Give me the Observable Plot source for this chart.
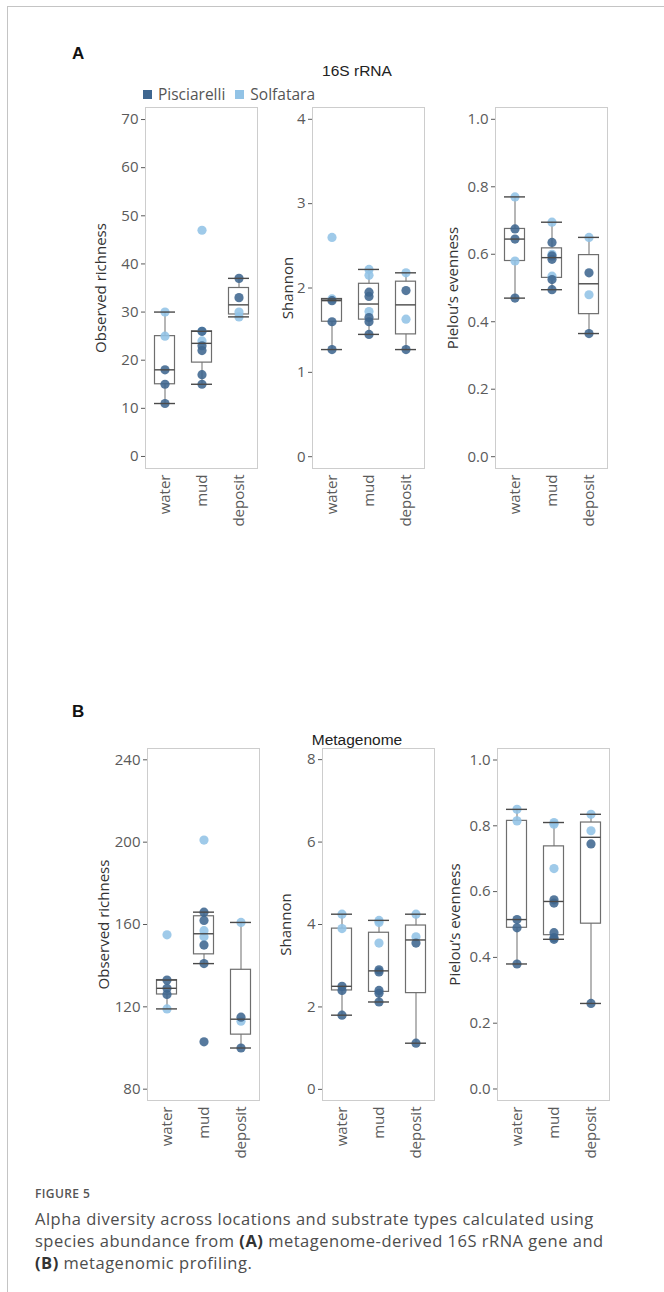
<!DOCTYPE html>
<html><head><meta charset="utf-8">
<script src="https://cdn.jsdelivr.net/npm/d3@7"></script>
<script src="https://cdn.jsdelivr.net/npm/@observablehq/plot@0.6"></script>
<style>
body{margin:0;background:#fff;}
#page{position:relative;width:664px;height:1292px;overflow:hidden;font-family:"Open Sans",sans-serif;background:#fff;}
.abs{position:absolute;white-space:nowrap;}
.border-top{position:absolute;left:8px;top:6px;width:660px;height:0;border-top:1.5px solid #c4c4c4;}
.border-left{position:absolute;left:7px;top:6px;width:0;height:1300px;border-left:1.5px solid #c4c4c4;}
.panel{position:absolute;}
.letter{font-family:"Liberation Sans",Arial,sans-serif;font-weight:bold;font-size:17px;color:#111;}
.title{font-family:"Liberation Sans",Arial,sans-serif;font-size:15.5px;color:#222;transform:translateX(-50%);}
.legend{font-size:15.5px;color:#555;display:flex;align-items:center;}
.sw{display:inline-block;width:9px;height:9px;margin-right:6px;}
.fig{font-size:12px;color:#555;letter-spacing:0.4px;font-weight:600;}
.capline{font-size:16.5px;color:#4d4d4d;line-height:22px;letter-spacing:0.5px;display:flex;white-space:pre;}
.capline b{font-weight:700;color:#333;}
g[aria-label="y-axis label"] text{fill:#333;}
</style></head><body>
<div id="page">
  <div class="border-top"></div><div class="border-left"></div>
  <div class="abs letter" style="left:72px;top:44px;">A</div>
  <div class="abs title" style="left:357px;top:62px;">16S rRNA</div>
  <div class="abs legend" id="legend" style="left:143px;top:83px;"></div>
  <div class="abs letter" style="left:72px;top:702px;">B</div>
  <div class="abs title" style="left:357px;top:731px;">Metagenome</div>
  <div class="abs fig" style="left:35px;top:1185px;">FIGURE 5</div>
  <div class="abs capline" style="left:35px;top:1208px;"><span>Alpha diversity across locations and substrate types calculated using</span></div>
  <div class="abs capline" style="left:35px;top:1230px;"><span>species abundance from </span><b>(A)</b><span> metagenome-derived 16S rRNA gene and</span></div>
  <div class="abs capline" style="left:35px;top:1252px;"><b>(B)</b><span> metagenomic profiling.</span></div>
</div>
<script>
// ---------- data ----------
const categories = ["water", "mud", "deposit"];
const sites = ["Pisciarelli", "Solfatara"];
const siteColors = ["#3f668f", "#92c3e6"];

// (A) 16S rRNA — values per category [water, mud, deposit]
const a_richness_pisciarelli = [[11, 15, 18], [15, 17, 22, 23, 26], [33, 37]];
const a_richness_solfatara   = [[25, 30], [24, 26, 47], [29, 30]];
const a_shannon_pisciarelli  = [[1.27, 1.6, 1.85], [1.45, 1.6, 1.65, 1.9, 1.95], [1.27, 1.97]];
const a_shannon_solfatara    = [[1.87, 2.6], [1.72, 2.15, 2.22], [1.63, 2.18]];
const a_pielou_pisciarelli   = [[0.47, 0.645, 0.675], [0.495, 0.525, 0.585, 0.595, 0.635], [0.365, 0.545]];
const a_pielou_solfatara     = [[0.58, 0.77], [0.535, 0.6, 0.695], [0.48, 0.65]];

// (B) Metagenome
const b_richness_pisciarelli = [[126, 129, 133], [103, 141, 150, 162, 166], [100, 115]];
const b_richness_solfatara   = [[119, 155], [154, 157, 201], [113, 161]];
const b_shannon_pisciarelli  = [[1.8, 2.4, 2.5], [2.12, 2.33, 2.4, 2.85, 2.9], [1.12, 3.55]];
const b_shannon_solfatara    = [[3.9, 4.25], [3.55, 4.05, 4.1], [3.7, 4.25]];
const b_pielou_pisciarelli   = [[0.38, 0.49, 0.515], [0.455, 0.46, 0.475, 0.565, 0.575], [0.26, 0.745]];
const b_pielou_solfatara     = [[0.815, 0.85], [0.67, 0.805, 0.81], [0.785, 0.835]];

// tick labels
const ticksRichA = [0, 10, 20, 30, 40, 50, 60, 70];
const ticksShanA = [0, 1, 2, 3, 4];
const ticksPielou = [0, 0.2, 0.4, 0.6, 0.8, 1.0];
const ticksRichB = [80, 120, 160, 200, 240];
const ticksShanB = [0, 2, 4, 6, 8];

// ---------- helpers ----------
function boxStats(vals) {
  const s = vals.slice().sort((a, b) => a - b), n = s.length;
  const med = d3.median(s);
  let lower, upper;
  if (n % 2) { const m = (n - 1) / 2; lower = s.slice(0, m + 1); upper = s.slice(m); }
  else { lower = s.slice(0, n / 2); upper = s.slice(n / 2); }
  const q1 = d3.median(lower), q3 = d3.median(upper), iqr = q3 - q1;
  const lo = d3.min(s.filter(v => v >= q1 - 1.5 * iqr));
  const hi = d3.max(s.filter(v => v <= q3 + 1.5 * iqr));
  return {q1, med, q3, lo, hi};
}
function table(pis, sol) {
  const pts = [];
  categories.forEach((c, i) => {
    sol[i].forEach(v => pts.push({cat: c, site: sites[1], v}));
    pis[i].forEach(v => pts.push({cat: c, site: sites[0], v}));
  });
  const stats = categories.map((c, i) => ({cat: c, ...boxStats(pis[i].concat(sol[i]))}));
  return {pts, stats};
}

const panels = [
  {pis: a_richness_pisciarelli, sol: a_richness_solfatara, domain: [-2.5, 72.5], ticks: ticksRichA, fmt: d3.format("d"), label: "Observed richness", fx: 145, fy: 107, fh: 361, lo: 50},
  {pis: a_shannon_pisciarelli, sol: a_shannon_solfatara, domain: [-0.14, 4.14], ticks: ticksShanA, fmt: d3.format("d"), label: "Shannon", fx: 312, fy: 107, fh: 361, lo: 30},
  {pis: a_pielou_pisciarelli, sol: a_pielou_solfatara, domain: [-0.035, 1.035], ticks: ticksPielou, fmt: d3.format(".1f"), label: "Pielou\u2019s evenness", fx: 495, fy: 107, fh: 361, lo: 48},
  {pis: b_richness_pisciarelli, sol: b_richness_solfatara, domain: [74.5, 245.5], ticks: ticksRichB, fmt: d3.format("d"), label: "Observed richness", fx: 147, fy: 748, fh: 352, lo: 49},
  {pis: b_shannon_pisciarelli, sol: b_shannon_solfatara, domain: [-0.27, 8.27], ticks: ticksShanB, fmt: d3.format("d"), label: "Shannon", fx: 322, fy: 748, fh: 352, lo: 42},
  {pis: b_pielou_pisciarelli, sol: b_pielou_solfatara, domain: [-0.035, 1.035], ticks: ticksPielou, fmt: d3.format(".1f"), label: "Pielou\u2019s evenness", fx: 497, fy: 748, fh: 352, lo: 48}
];

const page = document.getElementById("page");
const ml = 70, mr = 6, mt = 6, mb = 70, fw = 112;
const inset = 8.5, capInset = 8;

panels.forEach(p => {
  const {pts, stats} = table(p.pis, p.sol);
  const chart = Plot.plot({
    width: ml + fw + mr, height: mt + p.fh + mb,
    marginLeft: ml, marginRight: mr, marginTop: mt, marginBottom: mb,
    style: {fontFamily: "Open Sans", fontSize: "15px", background: "transparent", overflow: "visible"},
    x: {type: "band", domain: categories, padding: 0},
    y: {domain: p.domain},
    color: {domain: sites, range: siteColors},
    marks: [
      Plot.frame({stroke: "#cdcdcd"}),
      Plot.axisY({ticks: p.ticks, tickFormat: p.fmt, tickSize: 4, tickPadding: 3, color: "#5a5a5a",
                  label: p.label, labelAnchor: "center", labelArrow: "none", labelOffset: p.lo}),
      Plot.axisX({tickRotate: -90, tickSize: 0, tickPadding: 6, color: "#5a5a5a", label: null}),
      Plot.ruleX(stats, {x: "cat", y1: "lo", y2: "hi", stroke: "#858585", strokeWidth: 1.2}),
      Plot.barY(stats, {x: "cat", y1: "q1", y2: "q3", fill: "white", stroke: "#6e6e6e", strokeWidth: 1.2, insetLeft: inset, insetRight: inset}),
      Plot.dot(pts, {x: "cat", y: "v", fill: "site", r: 4.6, fillOpacity: 0.88}),
      Plot.tickY(stats, {x: "cat", y: "med", stroke: "#4a4a4a", strokeWidth: 1.4, insetLeft: inset, insetRight: inset}),
      Plot.tickY(stats, {x: "cat", y: "lo", stroke: "#4a4a4a", strokeWidth: 1.4, insetLeft: capInset, insetRight: capInset}),
      Plot.tickY(stats, {x: "cat", y: "hi", stroke: "#4a4a4a", strokeWidth: 1.4, insetLeft: capInset, insetRight: capInset})
    ]
  });
  const wrap = document.createElement("div");
  wrap.className = "panel";
  wrap.style.left = (p.fx - ml) + "px";
  wrap.style.top = (p.fy - mt) + "px";
  wrap.appendChild(chart);
  page.appendChild(wrap);
});

// legend (built from the site arrays)
const legend = document.getElementById("legend");
sites.forEach((s, i) => {
  const item = document.createElement("span");
  item.style.display = "inline-flex"; item.style.alignItems = "center"; item.style.marginRight = "10px";
  item.innerHTML = `<span class="sw" style="background:${siteColors[i]}"></span>${s}`;
  legend.appendChild(item);
});
</script>
</body></html>
